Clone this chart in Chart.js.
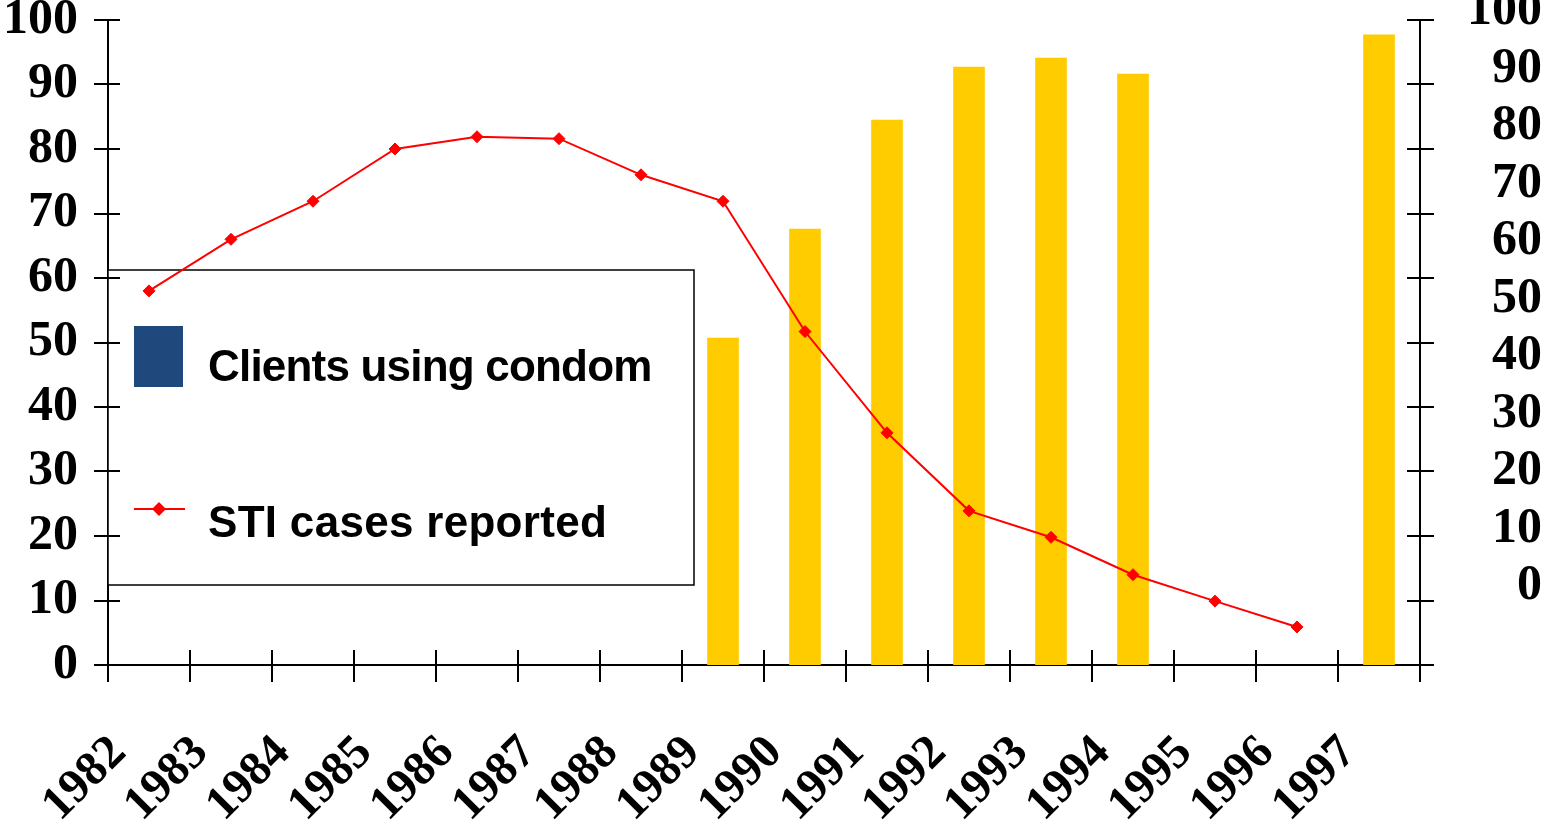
<!DOCTYPE html>
<html>
<head>
<meta charset="utf-8">
<title>Condom use and STI cases</title>
<script src="https://cdn.jsdelivr.net/npm/chart.js@4.4.0/dist/chart.umd.min.js"></script>
<style>
  body { margin: 0; background: #fff; }
  #wrap { width: 1542px; height: 822px; position: relative; }
</style>
</head>
<body>
<div id="wrap"><canvas id="myChart"></canvas></div>
<script>
// data
var years = ['1982', '1983', '1984', '1985', '1986', '1987', '1988', '1989',
             '1990', '1991', '1992', '1993', '1994', '1995', '1996', '1997'];
var condomUse = [null, null, null, null, null, null, null, 50.7,
                 67.6, 84.5, 92.7, 94.1, 91.6, null, null, 97.7];
var stiCases = [58, 66, 71.9, 80, 81.9, 81.6, 76, 71.9,
                51.7, 36, 23.9, 19.8, 14, 9.9, 5.9, null];
var leftTicks = [0, 10, 20, 30, 40, 50, 60, 70, 80, 90, 100];
var rightTicks = [0, 10, 20, 30, 40, 50, 60, 70, 80, 90, 100];
var seriesNames = ['Clients using condom', 'STI cases reported'];

var serif = "'Liberation Serif', 'Times New Roman', serif";

// small crossing tick marks like the original (axis lines are chart.js borders)
var tickMarks = {
    id: 'tickMarks',
    afterDraw: function (chart) {
        var ctx = chart.ctx;
        var x = chart.scales.x;
        var y = chart.scales.y;
        ctx.save();
        ctx.strokeStyle = '#000';
        ctx.lineWidth = 2;
        ctx.beginPath();
        for (var i = 0; i < leftTicks.length; i++) {
            var py = Math.round(y.getPixelForValue(leftTicks[i]));
            ctx.moveTo(x.left - 14, py);
            ctx.lineTo(x.left + 12, py);
            ctx.moveTo(x.right - 13, py);
            ctx.lineTo(x.right + 14, py);
        }
        for (var j = 0; j <= years.length; j++) {
            var px = Math.round(x.getPixelForValue(j - 0.5));
            ctx.moveTo(px, y.bottom - 15);
            ctx.lineTo(px, y.bottom + 17);
        }
        ctx.stroke();
        ctx.restore();
    }
};

// legend box sitting inside the plot, under the line
var legendBox = {
    id: 'legendBox',
    beforeDatasetsDraw: function (chart) {
        var ctx = chart.ctx;
        var a = chart.chartArea;
        var bx = a.left, by = 270, bw = 586, bh = 315;
        ctx.save();
        ctx.fillStyle = '#fff';
        ctx.fillRect(bx, by, bw, bh);
        ctx.strokeStyle = '#000';
        ctx.lineWidth = 1.5;
        ctx.strokeRect(bx, by, bw, bh);

        ctx.fillStyle = '#1F497D';
        ctx.fillRect(bx + 26, by + 56, 49, 61);

        ctx.strokeStyle = '#FF0000';
        ctx.lineWidth = 2;
        ctx.beginPath();
        ctx.moveTo(bx + 26, by + 239);
        ctx.lineTo(bx + 77, by + 239);
        ctx.stroke();
        ctx.fillStyle = '#FF0000';
        ctx.beginPath();
        ctx.moveTo(bx + 51, by + 232);
        ctx.lineTo(bx + 58, by + 239);
        ctx.lineTo(bx + 51, by + 246);
        ctx.lineTo(bx + 44, by + 239);
        ctx.closePath();
        ctx.fill();

        ctx.fillStyle = '#000';
        ctx.font = "bold 44px 'Liberation Sans', Arial, sans-serif";
        ctx.textBaseline = 'alphabetic';
        ctx.letterSpacing = '-0.8px';
        ctx.fillText(chart.data.datasets[1].label, bx + 100, by + 111);
        ctx.letterSpacing = '0.3px';
        ctx.fillText(chart.data.datasets[0].label, bx + 100, by + 267);
        ctx.restore();
    }
};

var ctx = document.getElementById('myChart');

var myChart = new Chart(ctx, {
    type: 'bar',
    data: {
        labels: years,
        datasets: [{
            type: 'line',
            label: seriesNames[1],
            data: stiCases,
            borderColor: '#FF0000',
            backgroundColor: '#FF0000',
            borderWidth: 2,
            pointStyle: 'rectRot',
            pointRadius: 6,
            pointBorderWidth: 1,
            tension: 0,
            yAxisID: 'y',
            order: 0
        }, {
            type: 'bar',
            label: seriesNames[0],
            data: condomUse,
            backgroundColor: '#FFCC00',
            barThickness: 31,
            yAxisID: 'y',
            order: 1
        }]
    },
    options: {
        responsive: true,
        maintainAspectRatio: false,
        animation: false,
        layout: { padding: { top: 20, left: 0, right: 0, bottom: 0 } },
        plugins: {
            legend: { display: false },
            tooltip: { enabled: false }
        },
        scales: {
            x: {
                grid: { display: false, drawTicks: false },
                border: { display: true, color: '#000', width: 2 },
                ticks: {
                    color: '#000',
                    font: { family: serif, weight: 'bold', size: 48 },
                    minRotation: 45,
                    maxRotation: 45,
                    autoSkip: false,
                    padding: 60,
                    labelOffset: -30
                },
                afterFit: function (scale) {
                    scale.height = 157;
                    scale.paddingLeft = 0;
                    scale.paddingRight = 0;
                }
            },
            y: {
                position: 'left',
                min: 0,
                max: 100,
                grid: { display: false, drawTicks: false },
                border: { display: true, color: '#000', width: 2 },
                ticks: {
                    stepSize: 10,
                    autoSkip: false,
                    color: '#000',
                    font: { family: serif, weight: 'bold', size: 50 },
                    padding: 30
                },
                afterFit: function (scale) {
                    scale.width = 108;
                    scale.paddingTop = 0;
                    scale.paddingBottom = 0;
                }
            },
            // right axis labels in the original are spaced differently from its tick marks
            y2: {
                position: 'right',
                min: -13.67,
                max: 98.53,
                grid: { display: false, drawTicks: false },
                border: { display: true, color: '#000', width: 2 },
                ticks: {
                    autoSkip: false,
                    color: '#000',
                    font: { family: serif, weight: 'bold', size: 50 },
                    padding: 50,
                    crossAlign: 'far',
                    callback: function (v) { return String(v); }
                },
                afterBuildTicks: function (scale) {
                    scale.ticks = rightTicks.map(function (v) { return { value: v }; });
                },
                afterFit: function (scale) {
                    scale.width = 122;
                    scale.paddingTop = 0;
                    scale.paddingBottom = 0;
                }
            }
        }
    },
    plugins: [legendBox, tickMarks]
});
</script>
</body>
</html>
